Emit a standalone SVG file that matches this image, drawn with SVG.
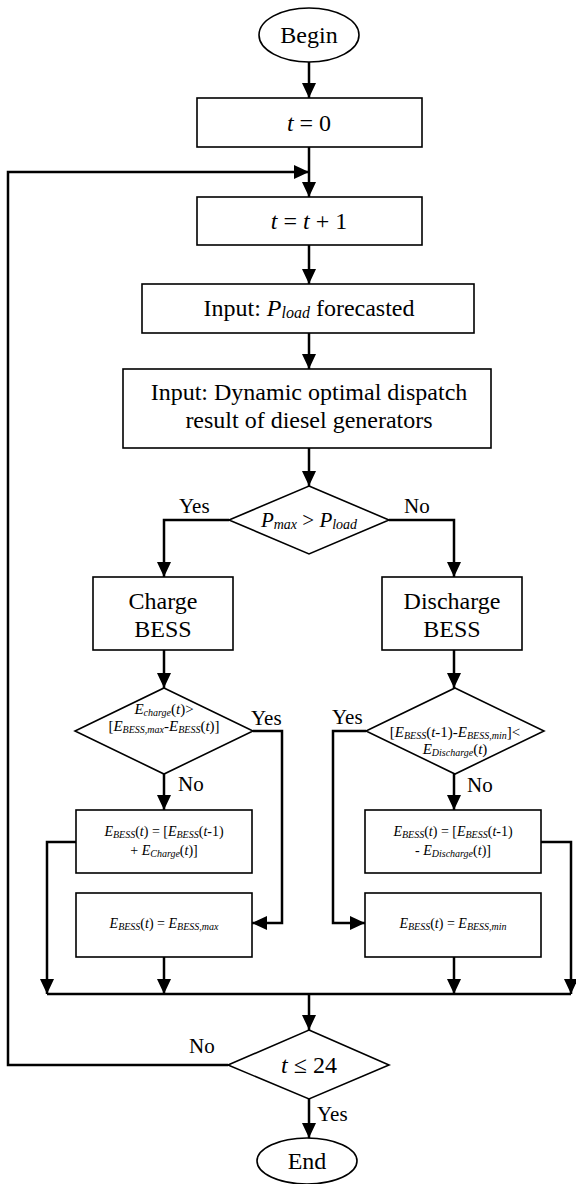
<svg xmlns="http://www.w3.org/2000/svg" width="576" height="1184" viewBox="0 0 576 1184">
<defs>
<style>
.n{fill:#fff;stroke:#000;stroke-width:1.6}
.c{fill:none;stroke:#000;stroke-width:2.5}
.t{font-family:"Liberation Serif","Times New Roman",serif;font-size:24px;fill:#000}
.m{font-family:"Liberation Serif","Times New Roman",serif;font-size:21px;fill:#000}
.s{font-family:"Liberation Serif","Times New Roman",serif;font-size:14px;fill:#000}
.d{font-family:"Liberation Serif","Times New Roman",serif;font-size:15px;fill:#000}
.i{font-style:italic}
.b{font-size:10px;font-style:italic}
.bm{font-size:14px;font-style:italic}
.bl{font-size:16px;font-style:italic}
</style>
<marker id="ah" markerUnits="userSpaceOnUse" markerWidth="16" markerHeight="14" refX="15" refY="7" orient="auto">
<path d="M0,0 L15,7 L0,14 Z" fill="#000"/>
</marker>
</defs>
<rect width="576" height="1184" fill="#fff"/>

<g id="connectors">
<line class="c" x1="309" y1="62" x2="309" y2="98" marker-end="url(#ah)"/>
<line class="c" x1="309" y1="147" x2="309" y2="197" marker-end="url(#ah)"/>
<polyline class="c" points="228,1065 8,1065 8,172 309,172" marker-end="url(#ah)"/>
<line class="c" x1="309" y1="245" x2="309" y2="284" marker-end="url(#ah)"/>
<line class="c" x1="309" y1="333" x2="309" y2="369" marker-end="url(#ah)"/>
<line class="c" x1="309" y1="448" x2="309" y2="486" marker-end="url(#ah)"/>
<polyline class="c" points="229,520 164,520 164,577" marker-end="url(#ah)"/>
<polyline class="c" points="389,520 454,520 454,577" marker-end="url(#ah)"/>
<line class="c" x1="164" y1="650" x2="164" y2="688" marker-end="url(#ah)"/>
<line class="c" x1="454" y1="650" x2="454" y2="688" marker-end="url(#ah)"/>
<line class="c" x1="164" y1="774" x2="164" y2="810" marker-end="url(#ah)"/>
<line class="c" x1="454" y1="774" x2="454" y2="810" marker-end="url(#ah)"/>
<polyline class="c" points="253,731 282,731 282,923 252,923" marker-end="url(#ah)"/>
<polyline class="c" points="366,731 333,731 333,923 365,923" marker-end="url(#ah)"/>
<polyline class="c" points="76,842 47,842 47,994" marker-end="url(#ah)"/>
<polyline class="c" points="541,842 571,842 571,994" marker-end="url(#ah)"/>
<line class="c" x1="164" y1="957" x2="164" y2="994" marker-end="url(#ah)"/>
<line class="c" x1="454" y1="957" x2="454" y2="994" marker-end="url(#ah)"/>
<line class="c" x1="47" y1="994" x2="571" y2="994"/>
<line class="c" x1="309" y1="994" x2="309" y2="1030" marker-end="url(#ah)"/>
<line class="c" x1="309" y1="1099" x2="309" y2="1138" marker-end="url(#ah)"/>
<text class="m" x="179" y="513">Yes</text>
<text class="m" x="404" y="513">No</text>
<text class="m" x="251" y="725">Yes</text>
<text class="m" x="332" y="724">Yes</text>
<text class="m" x="178" y="791">No</text>
<text class="m" x="467" y="792">No</text>
<text class="m" x="189" y="1053">No</text>
<text class="m" x="317" y="1121">Yes</text>
</g>

<g id="begin">
<ellipse class="n" cx="309" cy="35" rx="50" ry="27"/>
<text class="t" x="309" y="43" text-anchor="middle">Begin</text>
</g>

<g id="t0">
<rect class="n" x="197" y="98" width="225" height="49"/>
<text class="t" x="309" y="131" text-anchor="middle"><tspan class="i">t</tspan> = 0</text>
</g>

<g id="tinc">
<rect class="n" x="197" y="197" width="225" height="48"/>
<text class="t" x="309" y="229" text-anchor="middle"><tspan class="i">t</tspan> = <tspan class="i">t</tspan> + 1</text>
</g>

<g id="pload">
<rect class="n" x="142" y="284" width="332" height="49"/>
<text class="t" x="309" y="316" text-anchor="middle">Input: <tspan class="i">P</tspan><tspan class="bl" dy="2">load</tspan><tspan dy="-2"> forecasted</tspan></text>
</g>

<g id="dispatch">
<rect class="n" x="123" y="369" width="368" height="79"/>
<text class="t" x="309" y="400" text-anchor="middle">Input: Dynamic optimal dispatch</text>
<text class="t" x="309" y="428" text-anchor="middle">result of diesel generators</text>
</g>

<g id="dec1">
<polygon class="n" points="309,486 389,520 309,554 229,520"/>
<text class="m" x="309" y="527" text-anchor="middle"><tspan class="i">P</tspan><tspan class="bm" dy="2">max</tspan><tspan dy="-2"> &gt; </tspan><tspan class="i">P</tspan><tspan class="bm" dy="2">load</tspan></text>
</g>

<g id="charge">
<rect class="n" x="93" y="577" width="140" height="73"/>
<text class="t" x="163" y="609" text-anchor="middle">Charge</text>
<text class="t" x="163" y="637" text-anchor="middle">BESS</text>
</g>

<g id="discharge">
<rect class="n" x="382" y="577" width="140" height="73"/>
<text class="t" x="452" y="609" text-anchor="middle">Discharge</text>
<text class="t" x="452" y="637" text-anchor="middle">BESS</text>
</g>

<g id="dec2">
<polygon class="n" points="164,688 253,731 164,774 75,731"/>
<text class="d" x="164" y="714" text-anchor="middle"><tspan class="i">E</tspan><tspan class="b" dy="2">charge</tspan><tspan dy="-2">(</tspan><tspan class="i">t</tspan>)&gt;</text>
<text class="d" x="164" y="731" text-anchor="middle">[<tspan class="i">E</tspan><tspan class="b" dy="2">BESS,max</tspan><tspan dy="-2">-</tspan><tspan class="i">E</tspan><tspan class="b" dy="2">BESS</tspan><tspan dy="-2">(</tspan><tspan class="i">t</tspan>)]</text>
</g>

<g id="dec3">
<polygon class="n" points="455,688 544,731 455,774 366,731"/>
<text class="d" x="455" y="737" text-anchor="middle">[<tspan class="i">E</tspan><tspan class="b" dy="2">BESS</tspan><tspan dy="-2">(</tspan><tspan class="i">t</tspan>-1)-<tspan class="i">E</tspan><tspan class="b" dy="2">BESS,min</tspan><tspan dy="-2">]&lt;</tspan></text>
<text class="d" x="455" y="754" text-anchor="middle"><tspan class="i">E</tspan><tspan class="b" dy="2">Discharge</tspan><tspan dy="-2">(</tspan><tspan class="i">t</tspan>)</text>
</g>

<g id="upd1">
<rect class="n" x="76" y="810" width="176" height="63"/>
<text class="s" x="164" y="836" text-anchor="middle"><tspan class="i">E</tspan><tspan class="b" dy="2">BESS</tspan><tspan dy="-2">(</tspan><tspan class="i">t</tspan>) = [<tspan class="i">E</tspan><tspan class="b" dy="2">BESS</tspan><tspan dy="-2">(</tspan><tspan class="i">t</tspan>-1)</text>
<text class="s" x="164" y="855" text-anchor="middle">+ <tspan class="i">E</tspan><tspan class="b" dy="2">Charge</tspan><tspan dy="-2">(</tspan><tspan class="i">t</tspan>)]</text>
</g>

<g id="max1">
<rect class="n" x="76" y="893" width="176" height="64"/>
<text class="s" x="164" y="928" text-anchor="middle"><tspan class="i">E</tspan><tspan class="b" dy="2">BESS</tspan><tspan dy="-2">(</tspan><tspan class="i">t</tspan>) = <tspan class="i">E</tspan><tspan class="b" dy="2">BESS,max</tspan></text>
</g>

<g id="upd2">
<rect class="n" x="365" y="810" width="176" height="63"/>
<text class="s" x="453" y="836" text-anchor="middle"><tspan class="i">E</tspan><tspan class="b" dy="2">BESS</tspan><tspan dy="-2">(</tspan><tspan class="i">t</tspan>) = [<tspan class="i">E</tspan><tspan class="b" dy="2">BESS</tspan><tspan dy="-2">(</tspan><tspan class="i">t</tspan>-1)</text>
<text class="s" x="453" y="855" text-anchor="middle">- <tspan class="i">E</tspan><tspan class="b" dy="2">Discharge</tspan><tspan dy="-2">(</tspan><tspan class="i">t</tspan>)]</text>
</g>

<g id="min2">
<rect class="n" x="365" y="893" width="176" height="64"/>
<text class="s" x="453" y="928" text-anchor="middle"><tspan class="i">E</tspan><tspan class="b" dy="2">BESS</tspan><tspan dy="-2">(</tspan><tspan class="i">t</tspan>) = <tspan class="i">E</tspan><tspan class="b" dy="2">BESS,min</tspan></text>
</g>

<g id="dec4">
<polygon class="n" points="309,1030 389,1065 309,1099 228,1065"/>
<text class="t" x="309" y="1073" text-anchor="middle"><tspan class="i">t</tspan> ≤ 24</text>
</g>

<g id="end">
<ellipse class="n" cx="307" cy="1161" rx="50" ry="23"/>
<text class="t" x="307" y="1169" text-anchor="middle">End</text>
</g>
</svg>
